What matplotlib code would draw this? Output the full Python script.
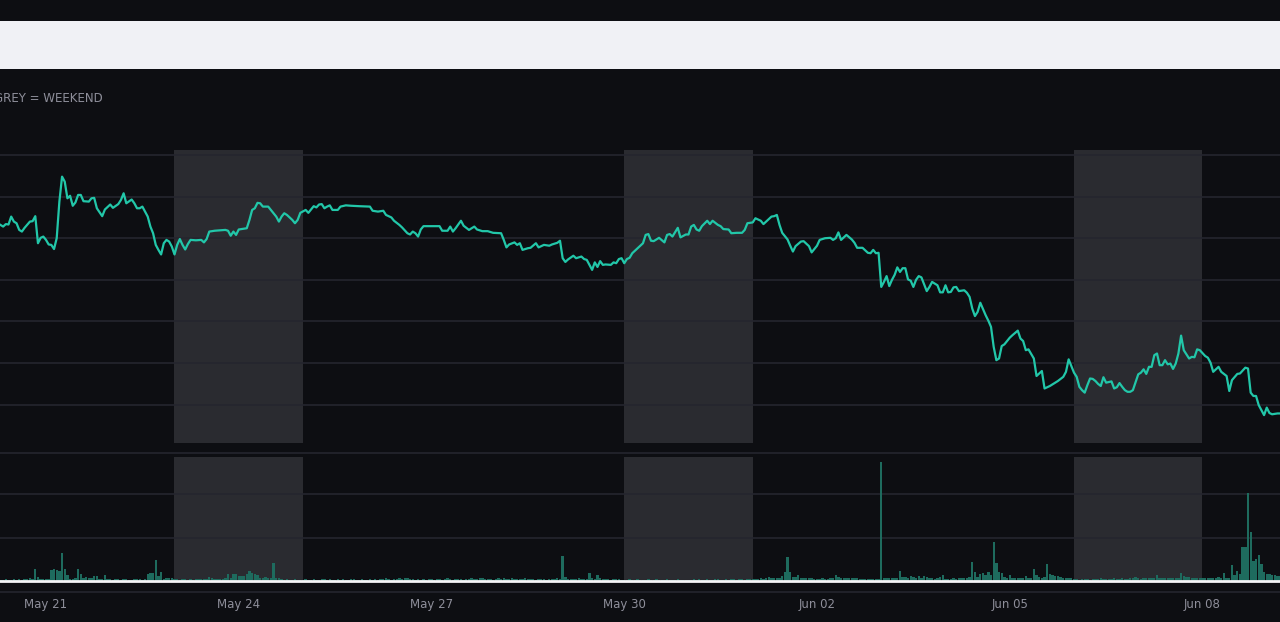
import matplotlib
matplotlib.use("Agg")
import matplotlib.pyplot as plt
import matplotlib.dates as mdates
from matplotlib.patches import Rectangle
from matplotlib.lines import Line2D
import pandas as pd
import numpy as np

# ---------------- data ----------------
START = pd.Timestamp("2020-05-21 00:00")

price_hours = [
    -17, -16, -15, -14, -13, -12, -11, -10, -9, -8, -6, -5, -4, -3, -2, -1,
    0, 1, 2, 3, 4, 5, 6, 7, 8, 9, 10, 11, 12, 13, 14, 16, 17, 18, 19, 21, 22,
    24, 25, 27, 28, 29, 30, 32, 33, 34, 35, 36, 38, 39, 40, 41, 42, 43, 44, 45, 46, 47,
    48, 49, 50, 51, 52, 53, 54, 56, 58, 59, 60, 61, 63, 67, 68, 69, 70, 71,
    72, 75, 76, 77, 78, 79, 80, 81, 83, 84, 86, 87, 88, 89, 90, 92, 93, 94, 95,
    97, 98, 99, 100, 101, 102, 103, 104, 105, 106, 107, 109, 110, 112, 114, 117,
    121, 122, 124, 126, 127, 129, 130, 132, 133, 135, 136, 137, 138, 139, 140, 141, 143,
    147, 148, 150, 151, 152, 153, 155, 156, 158, 160, 161, 163, 165, 167,
    170, 171, 172, 173, 175, 176, 177, 178, 180, 181, 183, 184, 186, 188, 189, 191,
    192, 193, 194, 195, 197, 198, 200, 201, 202, 203, 204, 205, 206, 207, 208, 209,
    211, 212, 213, 214, 215, 216, 217, 218, 219, 221, 223, 224, 225, 226, 227, 229,
    231, 232, 233, 234, 236, 237, 239, 240, 241, 242, 243, 244, 245, 247, 248, 249,
    251, 252, 253, 255, 256, 258, 260, 261, 262, 264, 265, 267, 268, 270, 271, 272,
    273, 274, 275, 277, 278, 279, 280, 282, 283, 285, 286, 288, 289, 291, 293, 294,
    295, 296, 297, 299, 301, 302, 303, 305, 307, 308, 309, 310, 311, 312, 313, 314,
    315, 316, 317, 318, 319, 320, 321, 322, 323, 324, 325, 326, 327, 329, 330, 331,
    333, 334, 335, 336, 337, 338, 339, 340, 341, 343, 344, 345, 346, 347, 348, 349,
    351, 352, 353, 354, 355, 356, 357, 358, 360, 361, 363, 364, 365, 366, 367, 369,
    370, 371, 372, 373, 375, 376, 378, 380, 381, 382, 384, 385, 386, 387, 388, 389,
    390, 391, 392, 393, 394, 395, 396, 398, 399, 400, 401, 402, 403, 404, 405, 406,
    407, 408, 409, 410, 411, 412, 413, 414, 415, 416, 417, 418, 419, 420, 421, 422,
    423, 424, 425, 427, 428, 429, 430, 431, 433, 434, 435, 436, 438, 439, 441, 442,
    443, 445, 446, 448, 449, 450, 451, 452, 453, 454, 455, 456, 457, 458, 460, 461,
]

price_values = [
    83.2, 82.8, 83.4, 83.3, 85.2, 84.0, 83.6, 82.0, 81.6, 82.5, 84.0, 84.1, 85.3, 78.8, 80.1, 80.4,
    79.6, 78.5, 78.4, 77.4, 80.0, 88.8, 94.8, 93.6, 89.6, 90.2, 87.8, 88.6, 90.4, 90.4, 88.9, 88.8, 89.6, 89.7, 87.2, 85.3, 86.9,
    88.1, 87.3, 88.2, 89.2, 90.8, 88.4, 89.3, 88.4, 87.2, 87.2, 87.6, 85.2, 82.8, 81.2, 78.4, 77.2, 76.1, 78.8, 79.6, 79.2, 78.0,
    76.1, 78.4, 79.8, 78.4, 77.3, 78.6, 79.6, 79.5, 79.6, 79.0, 79.8, 81.6, 81.8, 82.0, 81.8, 80.6, 81.6, 80.8,
    82.1, 82.4, 84.4, 86.8, 87.2, 88.5, 88.4, 87.6, 87.6, 86.8, 85.2, 84.0, 85.2, 86.0, 85.6, 84.4, 83.6, 84.4, 86.1,
    86.8, 86.1, 86.9, 87.7, 87.4, 88.1, 88.2, 87.2, 87.6, 87.9, 86.8, 86.8, 87.6, 87.9, 87.8, 87.7,
    87.6, 86.6, 86.4, 86.6, 85.6, 85.0, 84.2, 83.2, 82.6, 81.2, 80.9, 81.6, 81.2, 80.4, 82.1, 82.9, 82.9,
    82.9, 81.8, 81.8, 82.8, 81.6, 82.4, 84.2, 83.0, 82.0, 82.8, 82.1, 81.7, 81.7, 81.3,
    81.2, 79.6, 77.8, 78.5, 79.0, 78.4, 78.8, 77.2, 77.6, 77.7, 78.8, 77.8, 78.4, 78.2, 78.5, 78.9,
    79.4, 75.2, 74.3, 74.9, 75.8, 75.2, 75.6, 75.0, 74.8, 73.6, 72.4, 74.2, 73.1, 74.5, 73.6, 73.7,
    73.6, 74.2, 74.0, 75.0, 75.2, 74.0, 75.0, 75.3, 76.4, 77.6, 78.8, 80.8, 81.0, 79.4, 79.3, 80.1,
    79.0, 80.8, 81.0, 80.4, 82.5, 80.2, 80.9, 80.9, 82.8, 83.2, 82.1, 81.8, 82.9, 84.2, 83.4, 84.2,
    83.2, 82.9, 82.2, 82.1, 81.2, 81.3, 81.3, 82.0, 83.6, 83.8, 84.8, 84.2, 83.4, 84.6, 85.2, 85.3,
    85.6, 83.2, 81.3, 79.7, 78.2, 76.8, 78.1, 79.2, 79.3, 78.1, 76.6, 78.2, 79.6, 80.0, 80.1, 79.6,
    80.0, 81.4, 79.6, 80.8, 79.7, 78.9, 77.7, 77.7, 76.5, 76.4, 77.2, 76.4, 76.5, 68.3, 69.5, 70.9,
    68.5, 70.0, 71.2, 73.0, 71.9, 72.8, 72.8, 70.1, 69.8, 68.3, 70.0, 70.9, 70.6, 67.3, 68.3, 69.5,
    68.7, 67.0, 67.0, 68.7, 67.0, 67.1, 68.2, 68.3, 67.3, 67.5, 66.9, 65.9, 63.1, 61.3, 62.3, 64.5,
    61.5, 60.2, 58.7, 53.9, 50.7, 51.1, 54.1, 54.5, 56.1, 56.7, 57.8, 55.9, 55.3, 53.1, 53.3, 51.1,
    46.9, 47.5, 48.1, 43.9, 44.5, 44.9, 45.7, 46.7, 47.9, 50.9, 47.7, 46.7, 44.3, 43.5, 42.9, 44.7,
    46.3, 46.2, 45.7, 45.0, 44.5, 46.6, 45.3, 45.6, 43.9, 44.2, 45.2, 44.3, 43.5, 43.1, 43.1, 43.5,
    45.4, 47.3, 47.7, 48.5, 47.4, 49.1, 49.1, 51.9, 52.3, 49.5, 49.5, 50.7, 49.7, 49.9, 48.6, 49.9,
    52.3, 56.6, 53.1, 51.1, 51.5, 51.4, 53.3, 53.1, 51.7, 51.3, 50.1, 47.9, 49.1, 47.9, 46.9, 43.3,
    45.9, 47.4, 47.5, 48.9, 48.7, 42.9, 42.1, 42.1, 39.9, 38.7, 37.5, 39.3, 38.0, 37.7, 37.9, 37.9,
]

VOLUME_START = pd.Timestamp("2020-05-20 07:00")
volume_may20 = [1, 1, 2, 1, 1, 2, 1, 2, 1, 2, 2, 3, 2, 14, 5, 2, 2]
volume_may21 = [2, 2, 13, 14, 13, 12, 32, 14, 7, 2, 2, 3, 14, 8, 4, 5, 4, 4, 6, 6, 2, 2, 7, 2]
volume_may22 = [2, 1, 2, 2, 1, 2, 2, 1, 1, 2, 2, 2, 1, 2, 8, 9, 9, 24, 6, 10, 2, 3, 3, 3]
volume_may23 = [2, 2, 1, 2, 2, 1, 2, 1, 2, 2, 2, 2, 2, 5, 4, 2, 2, 2, 2, 3, 8, 4, 8, 8]
volume_may24 = [6, 6, 6, 8, 12, 9, 8, 7, 4, 4, 5, 4, 3, 21, 4, 3, 2, 1, 2, 1, 1, 2, 1, 1]
volume_may25 = [1, 2, 1, 1, 2, 1, 1, 2, 2, 1, 2, 1, 1, 2, 1, 2, 1, 1, 2, 2, 1, 1, 2, 1]
volume_may26 = [1, 2, 1, 2, 1, 2, 2, 4, 2, 1, 2, 2, 3, 2, 3, 4, 2, 2, 1, 2, 1, 2, 1, 2]
volume_may27 = [2, 1, 2, 2, 1, 2, 3, 2, 1, 2, 2, 2, 1, 2, 2, 3, 2, 2, 3, 3, 2, 2, 2, 1]
volume_may28 = [2, 3, 2, 3, 2, 2, 3, 2, 2, 2, 2, 3, 2, 2, 2, 1, 2, 2, 2, 1, 2, 2, 2, 3]
volume_may29 = [2, 29, 5, 2, 2, 2, 2, 3, 2, 2, 2, 9, 3, 2, 7, 4, 2, 2, 2, 1, 2, 2, 2, 1]
volume_may30 = [1, 1, 2, 1, 1, 2, 1, 1, 1, 2, 1, 1, 2, 1, 1, 1, 2, 1, 1, 1, 2, 1, 1, 1]
volume_may31 = [1, 1, 2, 1, 2, 1, 1, 2, 1, 1, 2, 2, 1, 1, 2, 1, 2, 2, 1, 2, 2, 1, 2, 2]
volume_jun01 = [2, 2, 2, 3, 2, 3, 5, 3, 4, 3, 4, 6, 10, 28, 10, 5, 5, 7, 3, 4, 3, 3, 3, 2]
volume_jun02 = [2, 2, 3, 2, 2, 3, 4, 7, 5, 3, 3, 4, 3, 3, 4, 3, 2, 2, 2, 2, 2, 2, 2, 2]
volume_jun03 = [137, 4, 4, 3, 3, 4, 3, 12, 5, 5, 4, 6, 5, 4, 6, 4, 6, 5, 3, 3, 2, 3, 5, 7]
volume_jun04 = [2, 2, 2, 3, 2, 3, 4, 3, 4, 5, 22, 10, 5, 8, 9, 7, 10, 7, 45, 21, 10, 9, 5, 4]
volume_jun05 = [7, 3, 4, 3, 3, 4, 6, 3, 4, 14, 7, 5, 4, 5, 20, 8, 7, 6, 6, 5, 4, 3, 3, 3]
volume_jun06 = [2, 2, 1, 2, 2, 2, 1, 2, 2, 2, 3, 2, 2, 2, 2, 3, 2, 2, 3, 2, 2, 3, 4, 5]
volume_jun07 = [3, 2, 3, 3, 4, 3, 3, 7, 4, 3, 4, 4, 4, 4, 3, 4, 9, 6, 5, 5, 3, 3, 3, 3]
volume_jun08 = [4, 3, 4, 3, 3, 4, 5, 4, 9, 3, 4, 18, 7, 12, 8, 39, 39, 101, 56, 23, 25, 30, 20, 10]
volume_jun09 = [8, 8, 7, 7, 6, 6]

weekend_starts = ["2020-05-23", "2020-05-30", "2020-06-06"]
weekend_days = 2
tick_dates = ["2020-05-21", "2020-05-24", "2020-05-27", "2020-05-30",
              "2020-06-02", "2020-06-05", "2020-06-08"]
legend_text = "GREY = WEEKEND"

# ---------------- style ----------------
BG = "#0d0e12"
BAND = "#f0f1f5"
GRID = "#25262e"
SHADE = "#2a2b30"
LINE = "#22c7a9"
BAR = "#1e6b5e"
TXT = "#8e8e9a"

W, H = 1280, 622


def fy(py):
    return 1 - py / H


fig = plt.figure(figsize=(W / 100, H / 100), dpi=100, facecolor=BG)

fig.add_artist(Rectangle((0, fy(69)), 1, (69 - 21) / H, transform=fig.transFigure,
                         facecolor=BAND, edgecolor="none"))
fig.text(-6 / W, fy(98), legend_text, color=TXT, fontsize=8.6, va="center", ha="left",
         family="DejaVu Sans")

ax = fig.add_axes([0, fy(443), 1, (443 - 150) / H])
axv = fig.add_axes([0, fy(581), 1, (581 - 453) / H], sharex=ax)

for a in (ax, axv):
    a.set_facecolor(BG)
    a.set_axisbelow(True)
    for s in a.spines.values():
        s.set_visible(False)
    a.tick_params(axis="y", left=False, labelleft=False)

price_t = [START + pd.Timedelta(hours=h) for h in price_hours]
ax.plot(mdates.date2num(price_t), price_values, color=LINE, lw=1.6, zorder=3,
        solid_joinstyle="round")

volume_values = (volume_may20 + volume_may21 + volume_may22 + volume_may23 + volume_may24
                 + volume_may25 + volume_may26 + volume_may27 + volume_may28 + volume_may29
                 + volume_may30 + volume_may31 + volume_jun01 + volume_jun02 + volume_jun03
                 + volume_jun04 + volume_jun05 + volume_jun06 + volume_jun07 + volume_jun08
                 + volume_jun09)
vol_t = [VOLUME_START + pd.Timedelta(hours=i) for i in range(len(volume_values))]
axv.bar(mdates.date2num(vol_t), volume_values, width=0.88 / 24, color=BAR,
        edgecolor="none", zorder=3)

for ws in weekend_starts:
    s = pd.Timestamp(ws)
    e = s + pd.Timedelta(days=weekend_days)
    ax.axvspan(mdates.date2num(s), mdates.date2num(e), color=SHADE, zorder=0.2, lw=0)
    axv.axvspan(mdates.date2num(s), mdates.date2num(e), ymin=0, ymax=124 / 128,
                color=SHADE, zorder=0.2, lw=0)

ax.set_ylim(30.8, 101.2)
ax.set_yticks([40, 50, 60, 70, 80, 90, 100])
ax.grid(axis="y", color=GRID, lw=1.2)
ax.grid(axis="x", visible=False)

axv.set_ylim(0, 147.2)
axv.set_yticks([50, 100])
axv.grid(axis="y", color=GRID, lw=1.2)
axv.grid(axis="x", visible=False)
axv.spines["top"].set_visible(True)
axv.spines["top"].set_color(GRID)
axv.spines["top"].set_linewidth(1.2)
axv.spines["bottom"].set_visible(True)
axv.spines["bottom"].set_color("#f4f4f6")
axv.spines["bottom"].set_linewidth(2)
axv.spines["bottom"].set_zorder(5)

x0 = START + pd.Timedelta(hours=-17.18)
x1 = START + pd.Timedelta(hours=460.95)
ax.set_xlim(mdates.date2num(x0), mdates.date2num(x1))

axv.set_xticks(mdates.date2num(pd.to_datetime(tick_dates)))
axv.xaxis.set_major_formatter(mdates.DateFormatter("%b %d"))
axv.tick_params(axis="x", length=0, pad=12, labelsize=8.5, labelcolor=TXT)
ax.tick_params(axis="x", bottom=False, labelbottom=False)

fig.add_artist(Line2D([0, 1], [fy(592), fy(592)], transform=fig.transFigure,
                      color=GRID, lw=1.2))

fig.savefig("out.png", dpi=100, facecolor=BG)
